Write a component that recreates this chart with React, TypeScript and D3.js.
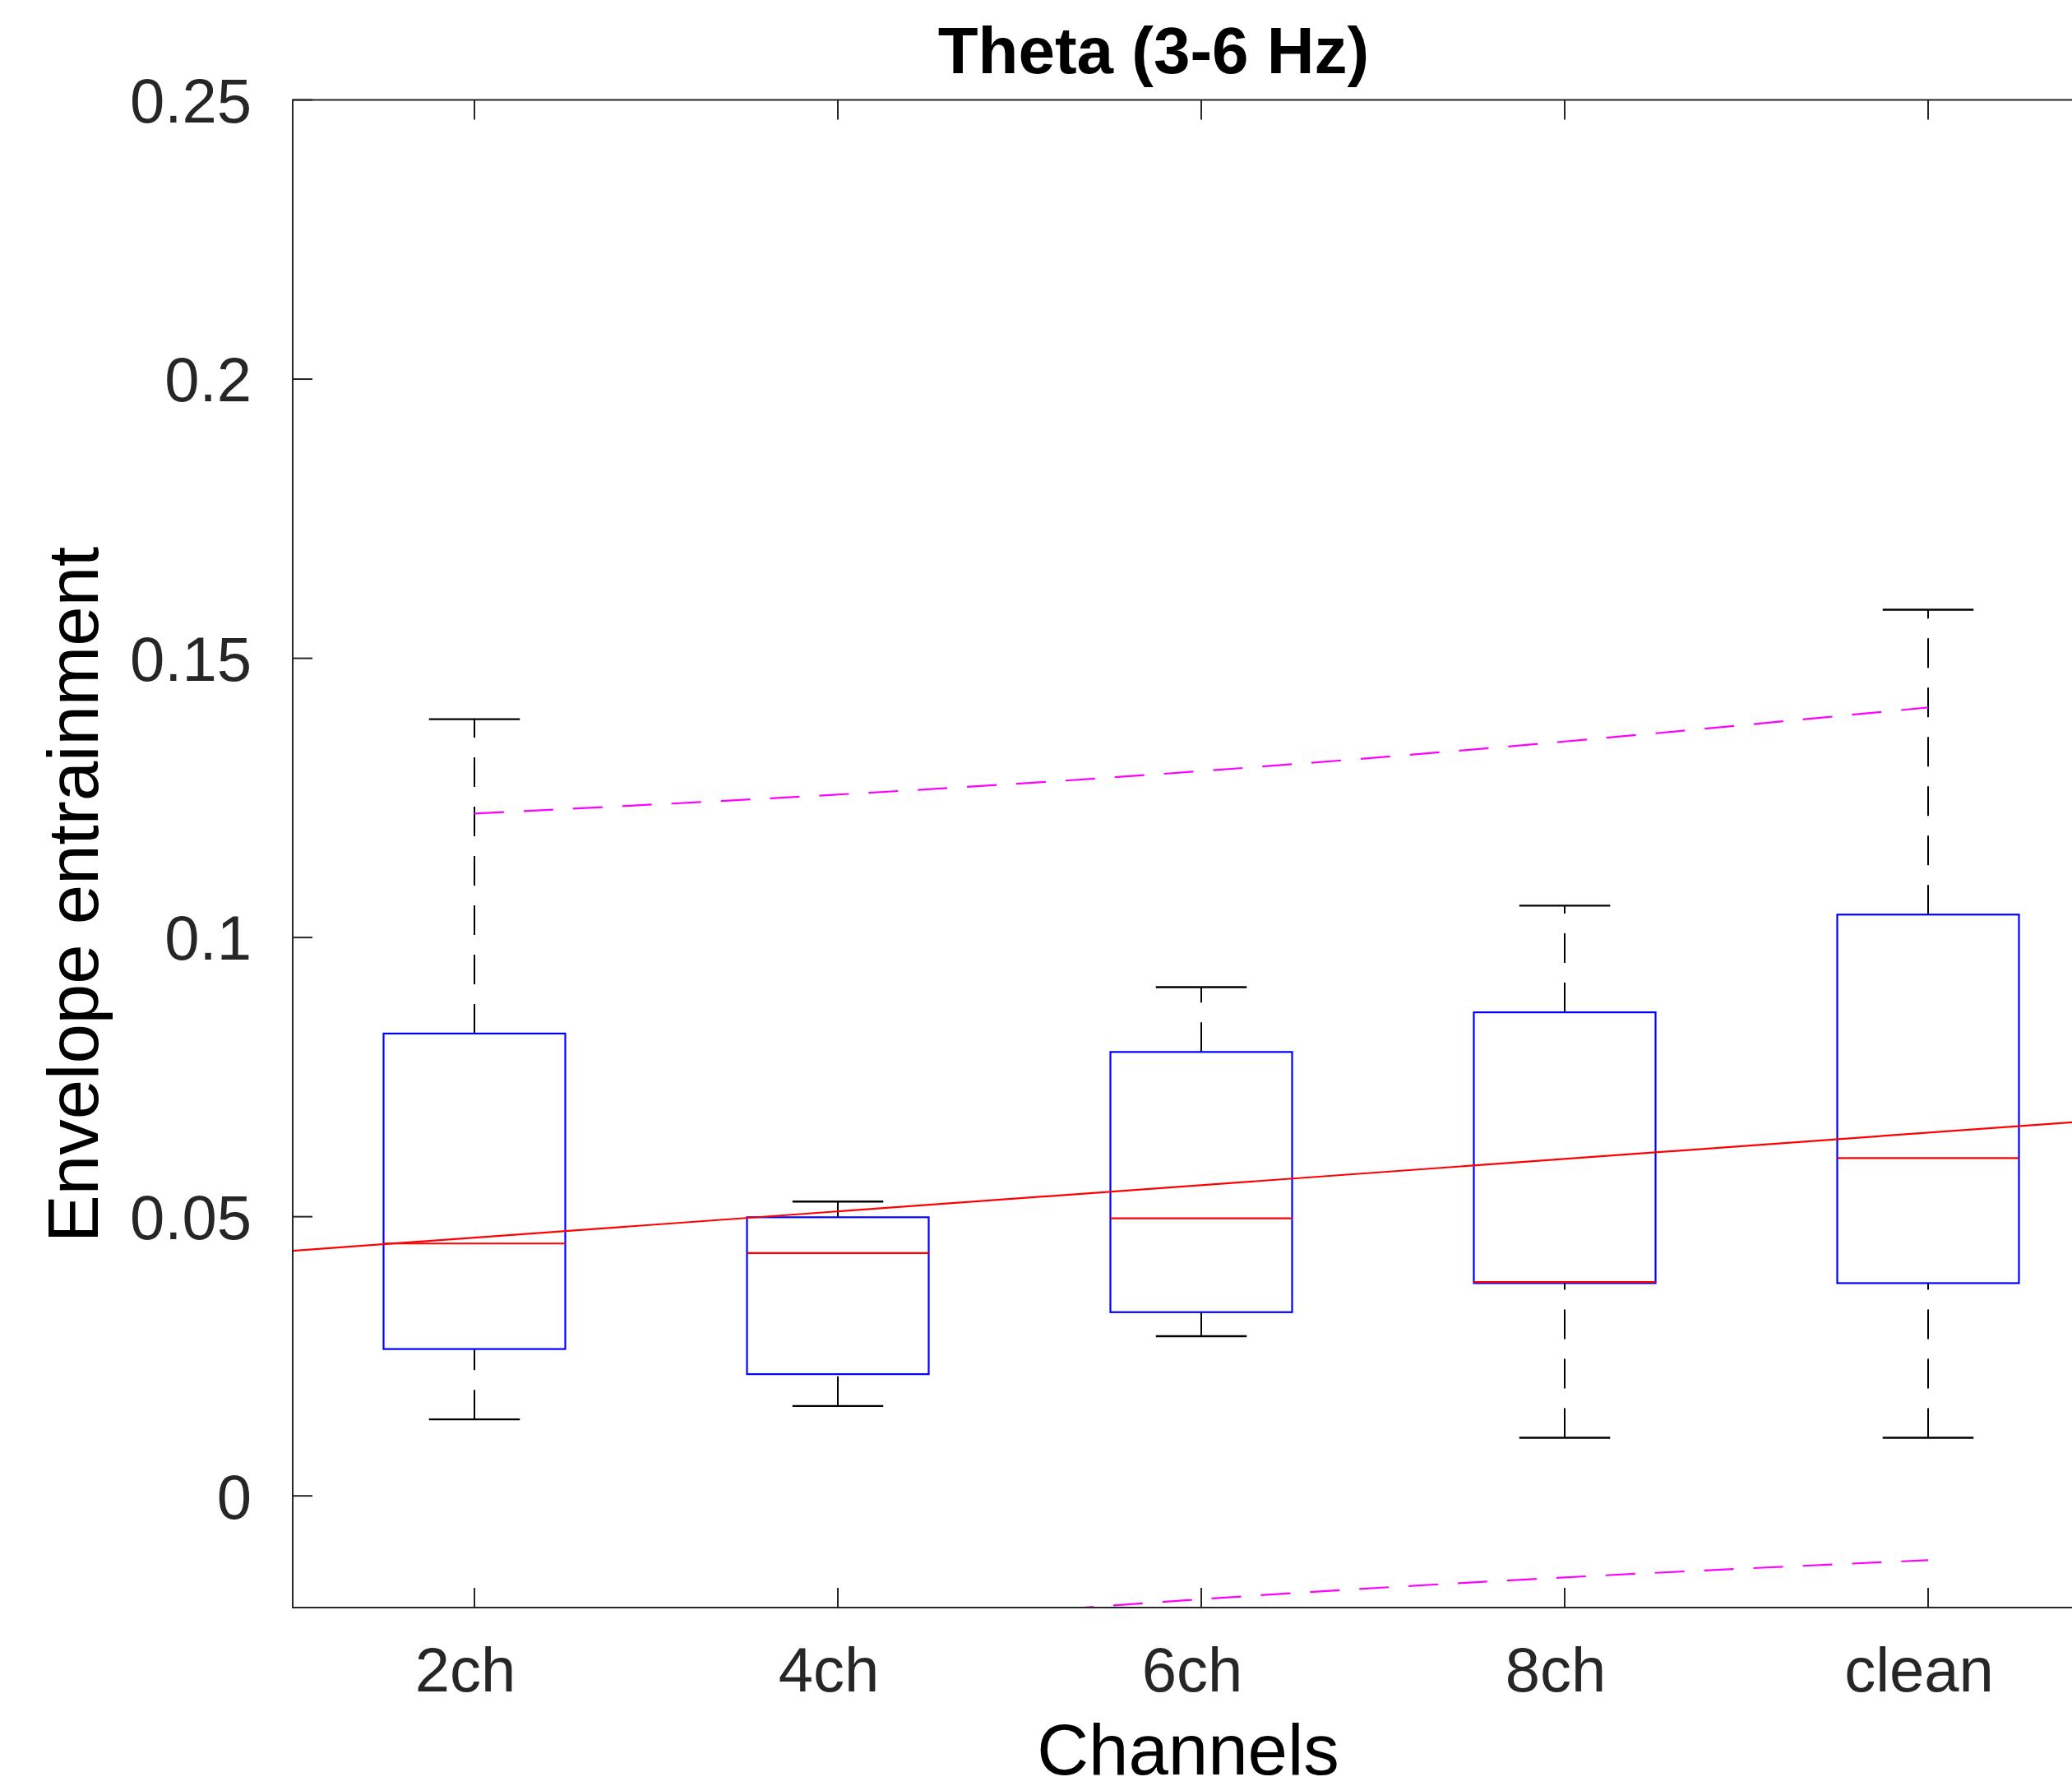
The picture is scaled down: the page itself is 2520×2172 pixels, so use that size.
import React from "react";
import * as d3 from "d3";

const categories = ["2ch", "4ch", "6ch", "8ch", "clean"];
const whiskerHigh = [0.1391, 0.0527, 0.0911, 0.1057, 0.1587];
const q3 = [0.0828, 0.0499, 0.0795, 0.0866, 0.1041];
const medians = [0.0452, 0.0435, 0.0497, 0.0383, 0.0605];
const q1 = [0.0263, 0.0218, 0.0329, 0.0381, 0.0381];
const whiskerLow = [0.0137, 0.0161, 0.0286, 0.0104, 0.0104];

const fitX = [0.5, 5.5];
const fitY = [0.0439, 0.0674];
const boundX = [1, 2, 3, 4, 5];
const upperBound = [0.1222, 0.1256, 0.1298, 0.1351, 0.1412];
const lowerBound = [-0.0298, -0.0236, -0.0185, -0.0146, -0.0115];

const yTicks = [0, 0.05, 0.1, 0.15, 0.2, 0.25];
const yTickLabels = ["0", "0.05", "0.1", "0.15", "0.2", "0.25"];

const W = 2520;
const H = 2172;
const left = 356;
const top = 121.5;
const bottom = 1955;
const right = 2566;
const axisColor = "#262626";
const font = "'Liberation Sans', Arial, Helvetica, sans-serif";

export default function App() {
  const x = d3.scaleLinear().domain([0.5, 5.5]).range([left, right]);
  const y = d3.scaleLinear().domain([-0.02, 0.25]).range([bottom, top]);
  const tickLen = 24;
  const dash = "36 24";

  const fitPath = d3.line<number>()((fitX.map((v, i) => [x(v), y(fitY[i])]) as any)) || "";
  const curve = d3.line<[number, number]>().x((d) => x(d[0])).y((d) => y(d[1])).curve(d3.curveNatural);
  const upPath = curve(boundX.map((v, i) => [v, upperBound[i]] as [number, number])) || "";
  const loPath = curve(boundX.map((v, i) => [v, lowerBound[i]] as [number, number])) || "";

  return (
    <svg width={W} height={H} style={{ position: "absolute", left: 0, top: 0, background: "#fff" }}>
      <rect x={0} y={0} width={W} height={H} fill="#fff" />
      <defs>
        <clipPath id="plotclip">
          <rect x={left} y={top} width={right - left} height={bottom - top} />
        </clipPath>
      </defs>

      {/* Boxplots */}
      {categories.map((c, i) => {
        const cx = x(i + 1);
        const bw = x(1.25) - x(1);
        const cw = x(1.125) - x(1);
        return (
          <g key={c}>
            <line x1={cx} x2={cx} y1={y(q3[i])} y2={y(whiskerHigh[i])} stroke="#000" strokeWidth={2} strokeDasharray={dash} />
            <line x1={cx} x2={cx} y1={y(whiskerLow[i])} y2={y(q1[i])} stroke="#000" strokeWidth={2} strokeDasharray={dash} />
            <line x1={cx - cw} x2={cx + cw} y1={y(whiskerHigh[i])} y2={y(whiskerHigh[i])} stroke="#000" strokeWidth={2.4} />
            <line x1={cx - cw} x2={cx + cw} y1={y(whiskerLow[i])} y2={y(whiskerLow[i])} stroke="#000" strokeWidth={2.4} />
            <rect x={cx - bw} y={y(q3[i])} width={2 * bw} height={y(q1[i]) - y(q3[i])} fill="none" stroke="#0000ff" strokeWidth={2.2} />
            <line x1={cx - bw} x2={cx + bw} y1={y(medians[i])} y2={y(medians[i])} stroke="#ff0000" strokeWidth={2.2} />
          </g>
        );
      })}

      <g clipPath="url(#plotclip)">
        <path d={fitPath} fill="none" stroke="#ff0000" strokeWidth={2.2} />
        <path d={upPath} fill="none" stroke="#ff00ff" strokeWidth={2.2} strokeDasharray={dash} />
        <path d={loPath} fill="none" stroke="#ff00ff" strokeWidth={2.2} strokeDasharray={dash} />
      </g>

      {/* Axes box */}
      <rect x={left} y={top} width={right - left} height={bottom - top} fill="none" stroke={axisColor} strokeWidth={2} />

      {/* Y ticks */}
      {yTicks.map((t, i) => (
        <g key={"y" + i}>
          <line x1={left} x2={left + tickLen} y1={y(t)} y2={y(t)} stroke={axisColor} strokeWidth={2} />
          <line x1={right} x2={right - tickLen} y1={y(t)} y2={y(t)} stroke={axisColor} strokeWidth={2} />
          <text x={left - 50} y={y(t)} dy="0.36em" textAnchor="end" fontFamily={font} fontSize={76} fill={axisColor}>
            {yTickLabels[i]}
          </text>
        </g>
      ))}

      {/* X ticks */}
      {categories.map((c, i) => (
        <g key={"x" + c}>
          <line x1={x(i + 1)} x2={x(i + 1)} y1={bottom} y2={bottom - tickLen} stroke={axisColor} strokeWidth={2} />
          <line x1={x(i + 1)} x2={x(i + 1)} y1={top} y2={top + tickLen} stroke={axisColor} strokeWidth={2} />
          <text x={x(i + 1) - 11} y={2057} textAnchor="middle" fontFamily={font} fontSize={76} fill={axisColor}>
            {c}
          </text>
        </g>
      ))}

      {/* Labels */}
      <text x={1445} y={2158} textAnchor="middle" fontFamily={font} fontSize={87} fill="#000">
        Channels
      </text>
      <text transform={`translate(119, 1088) rotate(-90)`} textAnchor="middle" fontFamily={font} fontSize={87} fill="#000">
        Envelope entrainment
      </text>
      <text x={1403} y={89} textAnchor="middle" fontFamily={font} fontSize={80} fontWeight="bold" fill="#000">
        Theta (3-6 Hz)
      </text>
    </svg>
  );
}
